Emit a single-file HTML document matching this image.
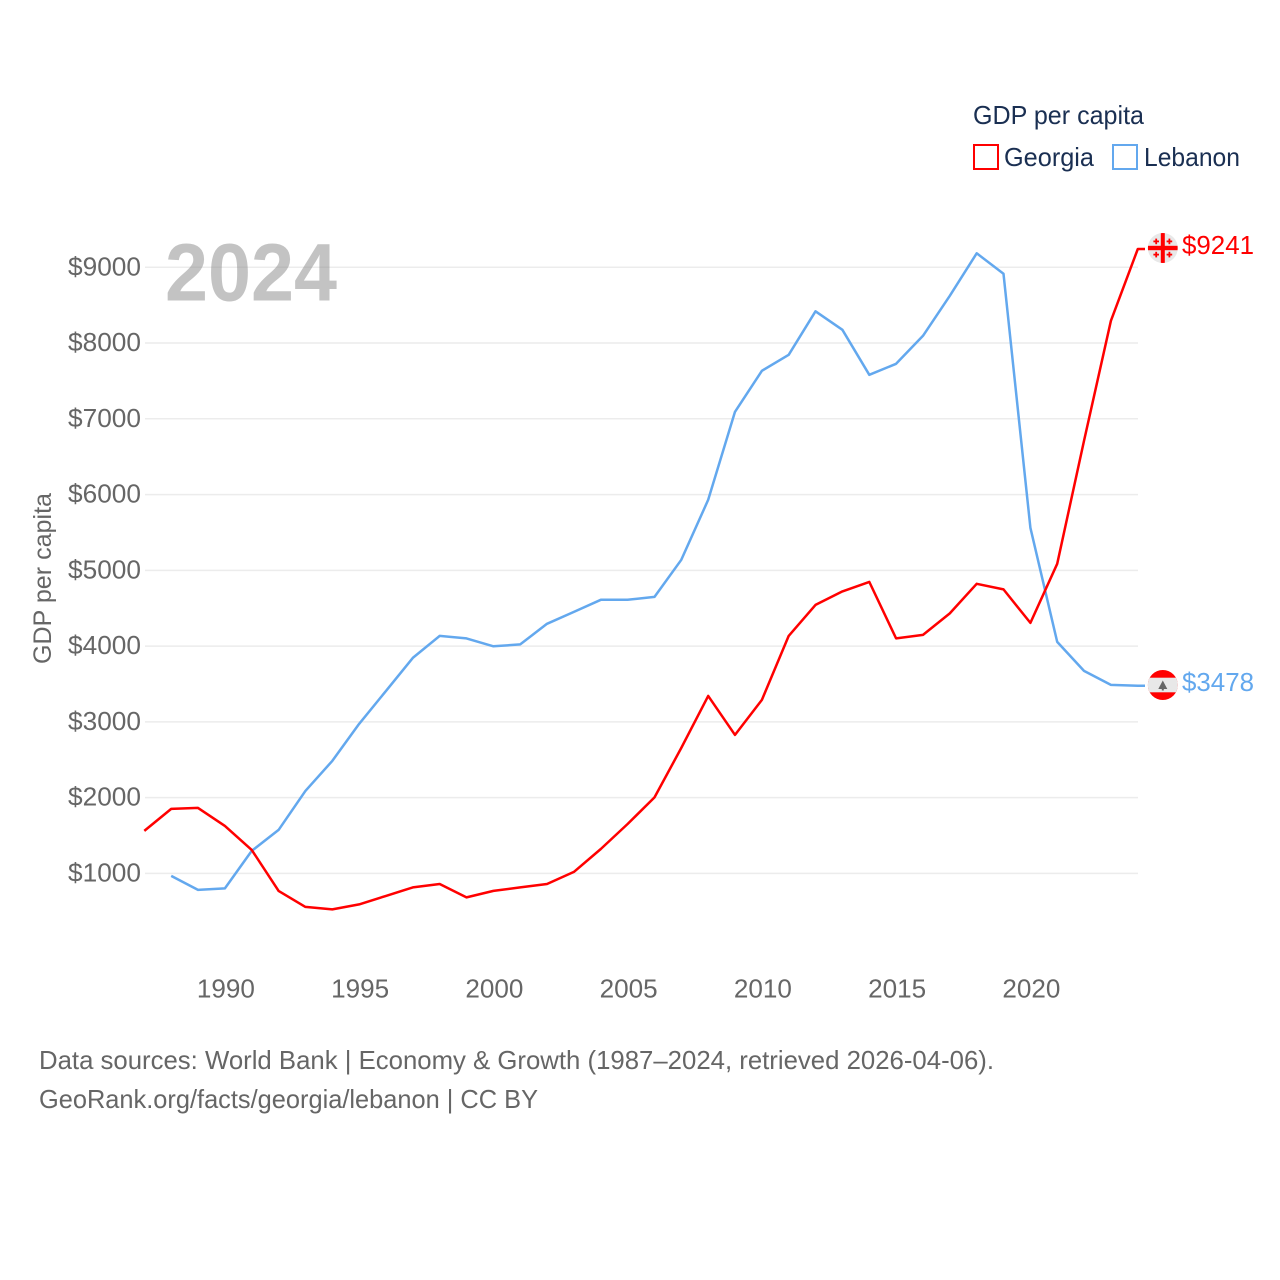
<!DOCTYPE html>
<html lang="en">
<head>
<meta charset="utf-8">
<title>GDP per capita: Georgia and Lebanon</title>
<style>
html,body{margin:0;padding:0;background:#fff;width:1280px;height:1280px;overflow:hidden}
svg{display:block;font-family:"Liberation Sans",sans-serif}
</style>
</head>
<body>
<svg id="chart" xmlns="http://www.w3.org/2000/svg" width="1280" height="1280" viewBox="0 0 1280 1280">
  <defs>
    <clipPath id="flag-clip-ge"><circle cx="0" cy="0" r="15"/></clipPath>
    <clipPath id="flag-clip-lb"><circle cx="0" cy="0" r="15"/></clipPath>
  </defs>
  <rect width="1280" height="1280" fill="#fff"/>
  <g id="grid"></g>
  <g id="yticks"></g>
  <g id="xticks"></g>
  <text x="165" y="300.5" font-size="82" font-weight="700" fill="#888" fill-opacity="0.5" textLength="172" lengthAdjust="spacingAndGlyphs">2024</text>
  <text transform="translate(51,664) rotate(-90)" font-size="25" fill="#666" textLength="171" lengthAdjust="spacingAndGlyphs">GDP per capita</text>
  <g id="lines"></g>
  <g id="ends"></g>
  <g>
    <text x="973" y="124" font-size="26" fill="#1a2f52" textLength="171" lengthAdjust="spacingAndGlyphs">GDP per capita</text>
    <g>
      <rect x="974" y="145" width="24" height="24" fill="none" stroke="#ff0000" stroke-width="2"/>
      <text x="1004" y="166" font-size="26" fill="#1a2f52" textLength="90" lengthAdjust="spacingAndGlyphs">Georgia</text>
    </g>
    <g>
      <rect x="1113" y="145" width="24" height="24" fill="none" stroke="#63a8ee" stroke-width="2"/>
      <text x="1144" y="166" font-size="26" fill="#1a2f52" textLength="96" lengthAdjust="spacingAndGlyphs">Lebanon</text>
    </g>
  </g>
  <text x="39" y="1069" font-size="26" fill="#666" textLength="955" lengthAdjust="spacingAndGlyphs">Data sources: World Bank | Economy &amp; Growth (1987–2024, retrieved 2026-04-06).</text>
  <a><text x="39" y="1108" font-size="26" fill="#666" textLength="499" lengthAdjust="spacingAndGlyphs">GeoRank.org/facts/georgia/lebanon | CC BY</text></a>
</svg>
<script>
const years = [1987,1988,1989,1990,1991,1992,1993,1994,1995,1996,1997,1998,1999,2000,2001,2002,2003,2004,2005,2006,2007,2008,2009,2010,2011,2012,2013,2014,2015,2016,2017,2018,2019,2020,2021,2022,2023,2024];
const georgiaValues = [1561,1851,1865,1627,1310,769,558,525,591,703,815,861,683,769,815,861,1020,1323,1653,2003,2657,3343,2828,3290,4135,4544,4722,4848,4102,4148,4432,4822,4749,4307,5086,6709,8293,9241];
const lebanonValues = [null,967,782,802,1297,1574,2089,2485,2974,3409,3845,4135,4102,3997,4023,4294,4452,4611,4611,4650,5139,5931,7092,7633,7845,8419,8175,7581,7726,8096,8624,9185,8914,5561,4056,3673,3488,3478];
const yTickValues = [1000,2000,3000,4000,5000,6000,7000,8000,9000];
const yTickLabels = ['$1000','$2000','$3000','$4000','$5000','$6000','$7000','$8000','$9000'];
const xTickValues = [1990,1995,2000,2005,2010,2015,2020];
const georgiaEndLabel = '$9241';
const lebanonEndLabel = '$3478';

const NS = 'http://www.w3.org/2000/svg';
const RED = '#ff0000';
const BLUE = '#63a8ee';
function xScale(year) { return 144.3 + (year - 1987) * 26.85; }
function yScale(value) { return 949.2 - value * 0.07577; }
function make(tag, attrs, parent) {
  const el = document.createElementNS(NS, tag);
  for (const k in attrs) el.setAttribute(k, attrs[k]);
  parent.appendChild(el);
  return el;
}

const gridG = document.getElementById('grid');
const yG = document.getElementById('yticks');
yTickValues.forEach((v, i) => {
  const line = make('line', {x1: 145, x2: 1138, y1: yScale(v), y2: yScale(v), stroke: '#ececec', 'stroke-width': 1.5}, gridG);
  
  
  const t = make('text', {x: 68, y: yScale(v) + 8, 'font-size': 26, fill: '#666', textLength: 73, lengthAdjust: 'spacingAndGlyphs'}, yG);
  
  
  t.textContent = yTickLabels[i];
});

const xG = document.getElementById('xticks');
xTickValues.forEach((v) => {
  const t = make('text', {x: xScale(v) - 28, y: 997.5, 'font-size': 26, fill: '#666', textLength: 58, lengthAdjust: 'spacingAndGlyphs'}, xG);
  
  
  t.textContent = String(v);
});

function linePath(values) {
  let d = '';
  values.forEach((v, i) => {
    if (v === null) return;
    d += (d ? 'L' : 'M') + xScale(years[i]).toFixed(1) + ' ' + yScale(v).toFixed(1);
  });
  const lastY = yScale(values[values.length - 1]);
  return d + 'L1145 ' + lastY.toFixed(1);
}
const linesG = document.getElementById('lines');
const blueLine = make('path', {d: linePath(lebanonValues), fill: 'none', stroke: BLUE, 'stroke-width': 2.5, 'stroke-linejoin': 'round'}, linesG);


const redLine = make('path', {d: linePath(georgiaValues), fill: 'none', stroke: RED, 'stroke-width': 2.5, 'stroke-linejoin': 'round'}, linesG);



const endsG = document.getElementById('ends');
const geY = yScale(georgiaValues[georgiaValues.length - 1]) - 1;
const lbY = yScale(lebanonValues[lebanonValues.length - 1]) - 0.7;

const geFlag = make('g', {transform: 'translate(1162.8,' + geY.toFixed(1) + ')', 'clip-path': 'url(#flag-clip-ge)'}, endsG);


make('rect', {x: -15, y: -15, width: 30, height: 30, fill: '#e8e8e8'}, geFlag);
make('rect', {x: -15, y: -2.2, width: 30, height: 4.4, fill: RED}, geFlag);
make('rect', {x: -2, y: -15, width: 4, height: 30, fill: RED}, geFlag);
[[-6.6, -6.6], [6.6, -6.6], [-6.6, 6.6], [6.6, 6.6]].forEach((p) => {
  make('rect', {x: p[0] - 2.8, y: p[1] - 0.9, width: 5.6, height: 1.8, fill: RED}, geFlag);
  make('rect', {x: p[0] - 0.9, y: p[1] - 2.8, width: 1.8, height: 5.6, fill: RED}, geFlag);
});

const lbFlag = make('g', {transform: 'translate(1162.8,' + lbY.toFixed(1) + ')', 'clip-path': 'url(#flag-clip-lb)'}, endsG);


make('rect', {x: -15, y: -15, width: 30, height: 30, fill: RED}, lbFlag);
make('rect', {x: -15, y: -7.3, width: 30, height: 14.6, fill: '#e8e8e8'}, lbFlag);
make('path', {d: 'M0 -4.5L4.5 4H1V5.5H-1V4H-4.5Z', fill: '#666'}, lbFlag);

const geLabel = make('text', {x: 1182, y: geY + 6, 'font-size': 26, fill: RED, textLength: 72, lengthAdjust: 'spacingAndGlyphs'}, endsG);


geLabel.textContent = georgiaEndLabel;
const lbLabel = make('text', {x: 1182, y: lbY + 6, 'font-size': 26, fill: BLUE, textLength: 72, lengthAdjust: 'spacingAndGlyphs'}, endsG);


lbLabel.textContent = lebanonEndLabel;
</script>
</body>
</html>
